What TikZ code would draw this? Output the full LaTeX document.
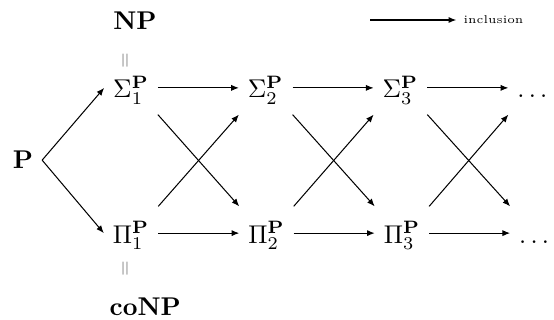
\documentclass[tikz,border=0pt]{standalone}
\usetikzlibrary{positioning,arrows.meta}

\begin{document}
\begin{tikzpicture}[
	>={Latex[length=3pt,width=2.4pt]},
	node distance = 1.11cm,
	cls/.style={text height=2.5ex, text depth=0.7ex},
	eqsign/.style={rotate=90, text=gray, font=\scriptsize, inner sep=0pt},
	]
	\useasboundingbox (0,0) rectangle (7.59,4.384);
	\node (P) at (0.315,2.19) {$\mathbf{P}$};
	\node [cls] (sig1) at (1.795,3.18) {$\Sigma_1^{\mathbf{P}}$};
	\node [cls, right=of sig1] (sig2) {$\Sigma_2^{\mathbf{P}}$};
	\node [cls, right=of sig2] (sig3) {$\Sigma_3^{\mathbf{P}}$};
	\node [cls, right=of sig3] (sigd) {$\ldots$};
	\node [cls] (pi1) at (1.795,1.19) {$\Pi_1^{\mathbf{P}}$};
	\node [cls, right=of pi1] (pi2) {$\Pi_2^{\mathbf{P}}$};
	\node [cls, right=of pi2] (pi3) {$\Pi_3^{\mathbf{P}}$};
	\node [cls, right=of pi3] (pid) {$\ldots$};
	
	% NP and coNP
	\node (np) at (1.85,4.10) {$\mathbf{NP}$};
	\node [eqsign] (eqtop) at (1.73,3.56) {$=$};
	\node [eqsign] (eqbot) at (1.73,0.71) {$=$};
	\node (conp) at (1.99,0.18) {$\mathbf{coNP}$};
	
	% legend
	\coordinate (legA) at (5.07,4.11);
	\node [anchor=west, inner sep=2.7pt, font=\fontsize{4.4}{5}\selectfont] (incl) at (6.25,4.11) {inclusion};
	\draw [->] (legA) -- (incl.west);
	
	\draw [->] (P.east) -- (sig1.west);
	\draw [->] (P.east) -- (pi1.west);
	\draw [->] (sig1) -- (sig2);
	\draw [->] (sig2) -- (sig3);
	\draw [->] (sig3) -- (sigd);
	\draw [->] (pi1) -- (pi2);
	\draw [->] (pi2) -- (pi3);
	\draw [->] (pi3) -- (pid);
	\draw [->] (sig1.south east) -- (pi2.north west);
	\draw [->] (sig2.south east) -- (pi3.north west);
	\draw [->] (sig3.south east) -- (pid.north west);
	\draw [->] (pi1.north east) -- (sig2.south west);
	\draw [->] (pi2.north east) -- (sig3.south west);
	\draw [->] (pi3.north east) -- (sigd.south west);
\end{tikzpicture}
\end{document}
